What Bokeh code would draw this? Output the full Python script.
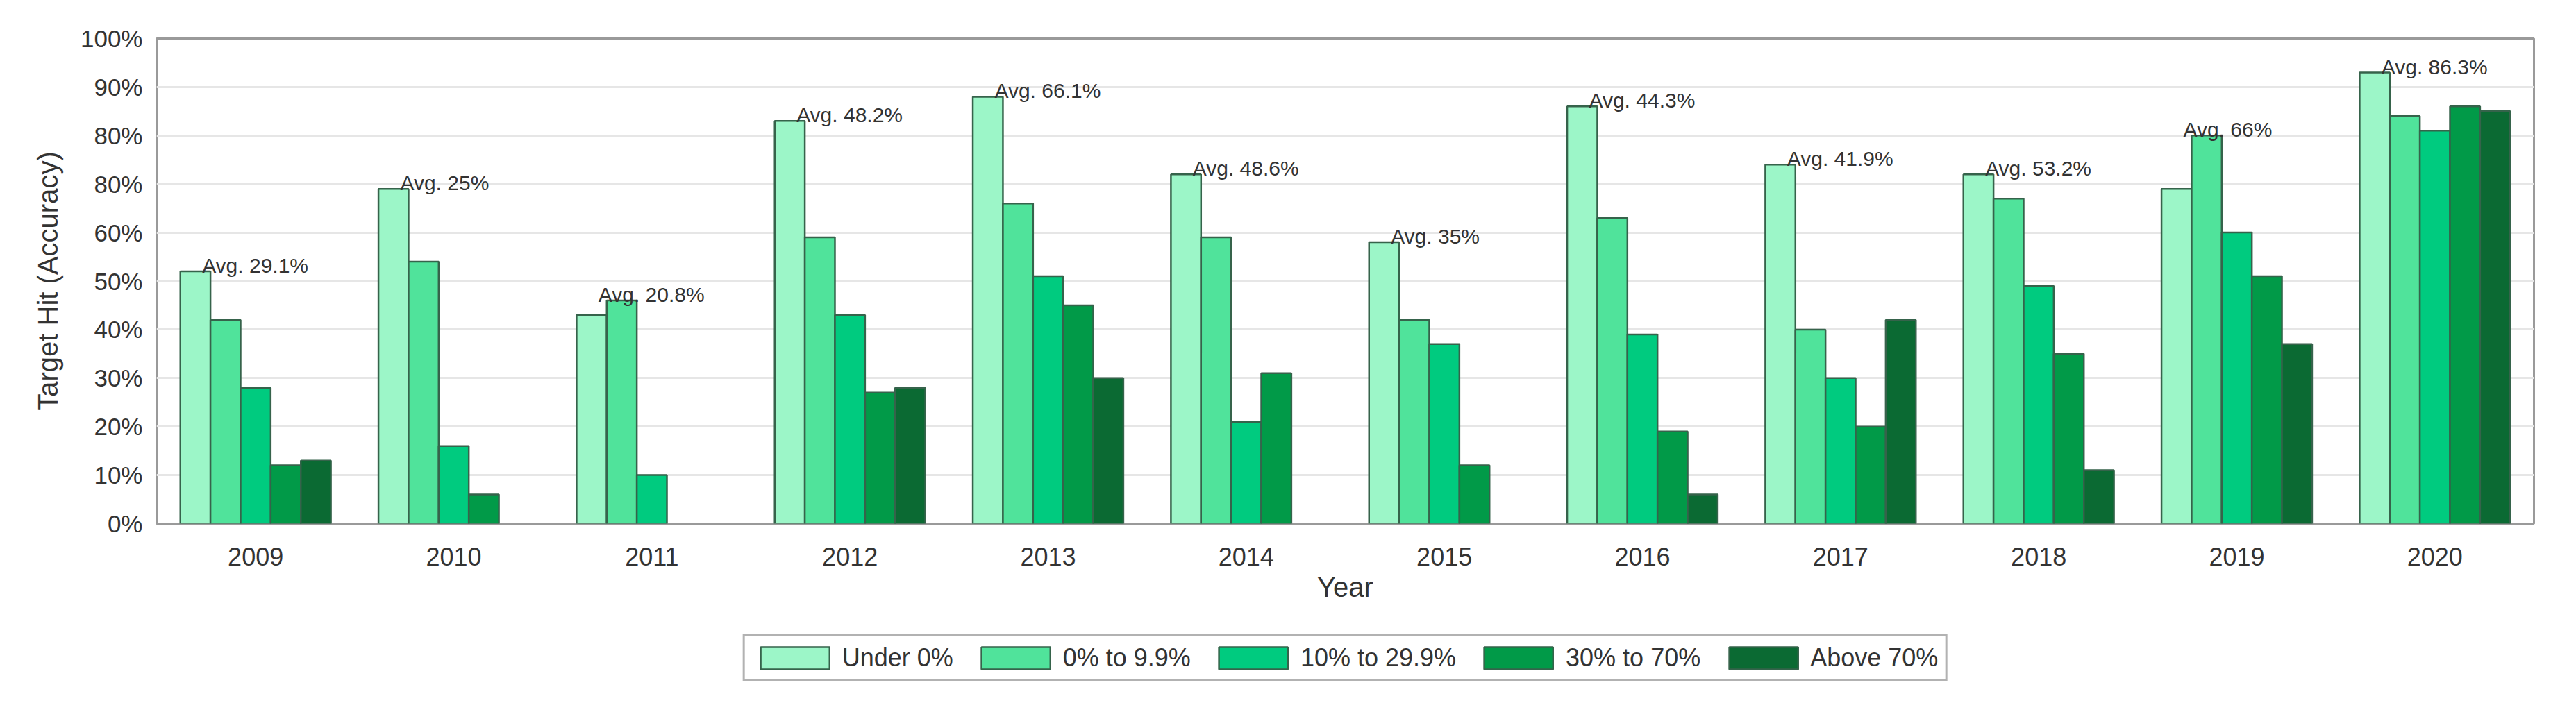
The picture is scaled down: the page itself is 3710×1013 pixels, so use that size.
from bokeh.plotting import figure
from bokeh.layouts import column
from bokeh.models import ColumnDataSource, FixedTicker, Legend, LegendItem, Range1d
from bokeh.transform import dodge
from bokeh.core.properties import value
from bokeh.embed import file_html
from bokeh.resources import INLINE

years = ["2009", "2010", "2011", "2012", "2013", "2014", "2015", "2016", "2017", "2018", "2019", "2020"]
series_names = ["Under 0%", "0% to 9.9%", "10% to 29.9%", "30% to 70%", "Above 70%"]
under_0 = [52, 69, 43, 83, 88, 72, 58, 86, 74, 72, 69, 93]
p0_to_9_9 = [42, 54, 46, 59, 66, 59, 42, 63, 40, 67, 80, 84]
p10_to_29_9 = [28, 16, 10, 43, 51, 21, 37, 39, 30, 49, 60, 81]
p30_to_70 = [12, 6, 0, 27, 45, 31, 12, 19, 20, 35, 51, 86]
above_70 = [13, 0, 0, 28, 30, 0, 0, 6, 42, 11, 37, 85]
avg_labels = ["Avg. 29.1%", "Avg. 25%", "Avg. 20.8%", "Avg. 48.2%", "Avg. 66.1%", "Avg. 48.6%",
              "Avg. 35%", "Avg. 44.3%", "Avg. 41.9%", "Avg. 53.2%", "Avg. 66%", "Avg. 86.3%"]
y_ticks = [0, 10, 20, 30, 40, 50, 60, 70, 80, 90, 100]
y_tick_labels = ["0%", "10%", "20%", "30%", "40%", "50%", "60%", "80%", "80%", "90%", "100%"]

series = [under_0, p0_to_9_9, p10_to_29_9, p30_to_70, above_70]
colors = ["#9cf6c8", "#50e39b", "#00cb7f", "#019a48", "#0b6a33"]
FONT = "Liberation Sans"
TXT = "#333333"
OUTLINE = "#36634b"
W = 3694
H1 = 890
H2 = 107
ML, MR = 225, 45

p = figure(x_range=years, y_range=(0, 100), width=W, height=H1,
           output_backend="svg", toolbar_location=None,
           min_border_left=ML, min_border_right=MR, min_border_top=55, min_border_bottom=H1 - 754)
p.background_fill_color = "white"
p.border_fill_color = "white"
p.outline_line_color = "#9a9a9a"
p.outline_line_width = 3

bw = 0.152
offsets = [-2 * bw, -bw, 0.0, bw, 2 * bw]
for name, vals, col, off in zip(series_names, series, colors, offsets):
    xs = [y for y, v in zip(years, vals) if v > 0]
    vs = [v for v in vals if v > 0]
    src = ColumnDataSource(dict(year=xs, val=vs))
    p.vbar(x=dodge("year", off, range=p.x_range), top="val", width=bw, bottom=0,
           source=src, fill_color=col, line_color=OUTLINE, line_width=2.5)

maxes = [max(vals) for vals in zip(*series)]
lab_src = ColumnDataSource(dict(year=years, y=[m + 1.2 for m in maxes], text=avg_labels))
p.text(x=dodge("year", -0.27, range=p.x_range), y="y", text="text", source=lab_src,
       text_font=value(FONT), text_font_size="30px", text_color=TXT,
       text_align="left", text_baseline="alphabetic")

p.xgrid.grid_line_color = None
p.ygrid.grid_line_color = "#e6e6e6"
p.ygrid.grid_line_width = 3
p.yaxis.ticker = FixedTicker(ticks=y_ticks)
p.yaxis.major_label_overrides = {t: l for t, l in zip(y_ticks, y_tick_labels)}

for ax in (p.xaxis[0], p.yaxis[0]):
    ax.axis_line_color = None
    ax.major_tick_line_color = None
    ax.minor_tick_line_color = None
    ax.major_tick_out = 0
    ax.major_tick_in = 0
    ax.major_label_text_font = FONT
    ax.major_label_text_color = TXT
    ax.axis_label_text_font = FONT
    ax.axis_label_text_color = TXT
    ax.axis_label_text_font_style = "normal"
    ax.axis_label_text_font_size = "40px"

p.xaxis.major_label_text_font_size = "36px"
p.xaxis.major_label_standoff = 34
p.xaxis.axis_label = "Year"
p.xaxis.axis_label_standoff = 6
p.yaxis.major_label_text_font_size = "35px"
p.yaxis.major_label_standoff = 20
p.yaxis.axis_label = "Target Hit (Accuracy)"
p.yaxis.axis_label_standoff = 22

# legend strip below the chart (same frame width so the legend centres on the plot)
p2 = figure(x_range=Range1d(0, 1), y_range=Range1d(0, 1), width=W, height=H2,
            output_backend="svg", toolbar_location=None,
            x_axis_location=None, y_axis_location=None,
            min_border_left=ML, min_border_right=MR, min_border_top=0, min_border_bottom=0)
p2.outline_line_color = None
p2.grid.grid_line_color = None
p2.background_fill_color = "white"
p2.border_fill_color = "white"
items = []
for name, col in zip(series_names, colors):
    # hidden proxy glyph that only supplies the legend swatch style
    proxy = ColumnDataSource(dict(x=[0.5], top=[0.5]))
    r = p2.vbar(x="x", top="top", width=0.1, source=proxy,
                fill_color=col, line_color=OUTLINE, line_width=2.5, visible=False)
    items.append(LegendItem(label=name, renderers=[r]))

legend = Legend(items=items, orientation="horizontal", location="top_center",
                glyph_width=124, glyph_height=40, label_height=40, label_standoff=6,
                spacing=28, padding=10, margin=24,
                label_text_font=FONT, label_text_font_size="36px", label_text_color=TXT,
                border_line_color="#666666", border_line_width=3,
                background_fill_color="white", background_fill_alpha=1.0,
                inactive_fill_alpha=0.0)
p2.add_layout(legend, "center")

layout = column(p, p2, spacing=0)
open("out.html", "w").write(file_html(layout, INLINE))
